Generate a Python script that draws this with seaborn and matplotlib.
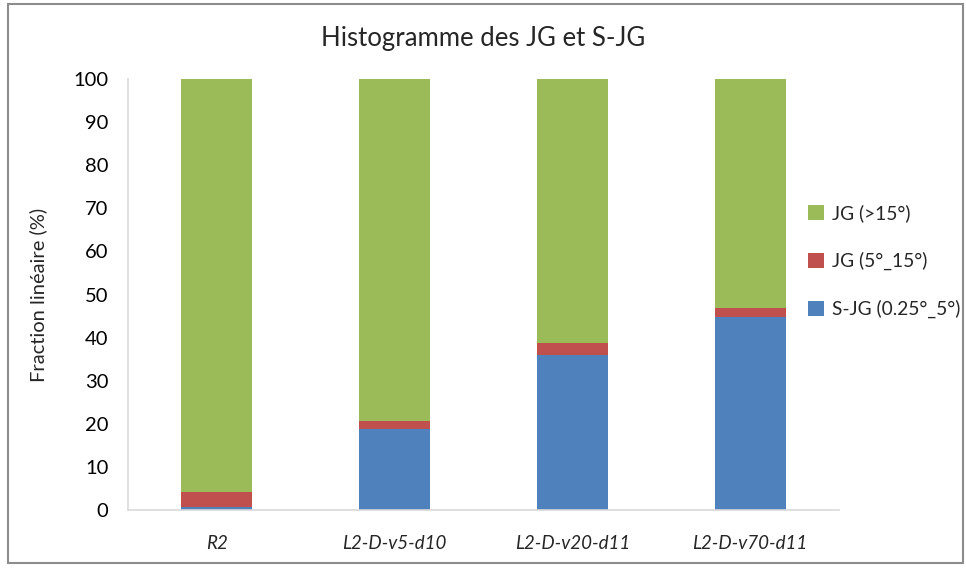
import matplotlib
matplotlib.use("Agg")
import matplotlib.pyplot as plt
from matplotlib.patches import Patch, Rectangle
import seaborn as sns
import pandas as pd
import numpy as np

sns.set_style("white")
plt.rcParams['font.family'] = ['Lato', 'DejaVu Sans']

samples = ["R2", "L2-D-v5-d10", "L2-D-v20-d11", "L2-D-v70-d11"]
sjg_low = [0.6, 18.7, 36.0, 44.7]        # S-JG (0.25°_5°)
jg_mid = [3.6, 2.0, 2.7, 2.1]            # JG (5°_15°)
jg_high = [95.8, 79.3, 61.3, 53.2]       # JG (>15°)

labels = ["S-JG (0.25°_5°)", "JG (5°_15°)", "JG (>15°)"]
colors = ["#4f81bd", "#c0504d", "#9bbb59"]

df = pd.DataFrame({
    "sample": samples,
    "low": sjg_low,
    "mid": jg_mid,
    "high": jg_high,
})
df["cum_mid"] = df["low"] + df["mid"]
df["cum_high"] = df["cum_mid"] + df["high"]

fig = plt.figure(figsize=(9.66, 5.68), dpi=100)
ax = fig.add_axes([0.1325, 0.1021, 0.736, 0.7588])

# stacked bars: draw cumulative totals from the top segment down
for col, color in zip(["cum_high", "cum_mid", "low"], colors[::-1]):
    sns.barplot(data=df, x="sample", y=col, color=color, width=0.4,
                saturation=1, ax=ax, linewidth=0, order=samples)

ax.set_ylim(0, 100)
ax.set_xlim(-0.5, 3.5)
ax.set_yticks(np.arange(0, 101, 10))
ax.tick_params(axis="y", labelsize=14.5, length=0, pad=14, colors="#000000")
ax.tick_params(axis="x", labelsize=13.5, length=0, pad=18)
for t in ax.get_xticklabels():
    t.set_fontstyle("italic")
ax.set_xlabel("")
ax.set_ylabel("Fraction linéaire (%)", fontsize=14.5, labelpad=19)

for side in ["top", "right"]:
    ax.spines[side].set_visible(False)
for side in ["left", "bottom"]:
    ax.spines[side].set_color("#d9d9d9")
    ax.spines[side].set_linewidth(1.2)

ax.set_title("Histogramme des JG et S-JG", fontsize=18.5, pad=24)

handles = [Patch(facecolor=c, edgecolor="none") for c in colors[::-1]]
leg = fig.legend(handles, labels[::-1], loc="center left",
                 bbox_to_anchor=(0.829, 0.54), frameon=False, fontsize=13.8,
                 handlelength=0.8, handleheight=0.8, handletextpad=0.45,
                 labelspacing=1.55, borderaxespad=0)

# chart-area border
fig.patches.append(Rectangle((0.008, 0.008), 0.989, 0.985, transform=fig.transFigure,
                             fill=False, edgecolor="#8c8c8c", linewidth=1.5))

fig.savefig("out.png", dpi=100)
